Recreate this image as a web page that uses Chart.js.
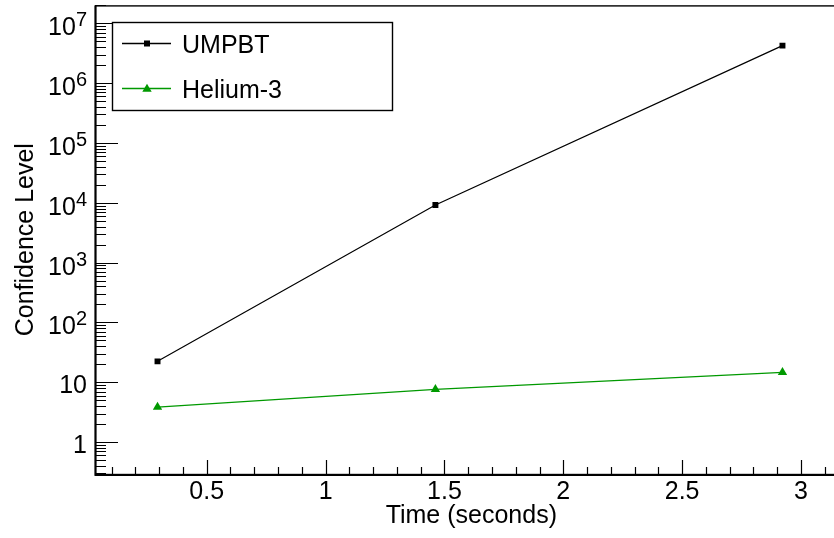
<!DOCTYPE html>
<html>
<head>
<meta charset="utf-8">
<script src="https://cdn.jsdelivr.net/npm/chart.js@4.4.1/dist/chart.umd.min.js"></script>
<style>
  html, body { margin: 0; padding: 0; overflow: hidden; background: #fff; }
  #myChart { display: block; }
</style>
</head>
<body>
<canvas id="myChart" width="853" height="538"></canvas>
<script>
const times = [0.293, 1.462, 2.922];
const umpbtValues = [22.4, 9200, 4.25e6];
const heliumValues = [3.85, 7.6, 14.7];
const seriesNames = ["UMPBT", "Helium-3"];
const seriesColors = ["#000000", "#009900"];
const xTickLabels = ["0.5", "1", "1.5", "2", "2.5", "3"];
const yTickExponents = [0, 1, 2, 3, 4, 5, 6, 7];

const FONT = "'Liberation Sans', Arial, Helvetica, sans-serif";

// ROOT style frame, inward ticks, y labels with exponents, legend box
const rootStyle = {
  id: "rootStyle",
  afterDraw(chart) {
    const ctx = chart.ctx;
    const a = chart.chartArea;
    const xs = chart.scales.x, ys = chart.scales.y;
    ctx.save();
    ctx.strokeStyle = "#000";

    // ticks
    ctx.lineWidth = 1.2;
    ctx.beginPath();
    xs.ticks.forEach(t => {
      const px = Math.round(xs.getPixelForValue(t.value)) + 0.5;
      const len = t.major ? 14 : 7;
      ctx.moveTo(px, a.bottom);
      ctx.lineTo(px, a.bottom - len);
    });
    ys.ticks.forEach(t => {
      const py = Math.round(ys.getPixelForValue(t.value)) + 0.5;
      const len = t.major ? 23 : 11;
      ctx.moveTo(a.left, py);
      ctx.lineTo(a.left + len, py);
    });
    ctx.stroke();

    // frame
    ctx.lineWidth = 1.4;
    ctx.strokeRect(a.left + 0.5, a.top + 0.5, a.right - a.left, a.bottom - a.top);
    ctx.lineWidth = 2;
    ctx.beginPath();
    ctx.moveTo(a.left + 0.5, a.top);
    ctx.lineTo(a.left + 0.5, a.bottom + 1);
    ctx.lineTo(a.right, a.bottom + 1);
    ctx.stroke();

    // y labels
    ctx.fillStyle = "#000";
    ctx.textBaseline = "alphabetic";
    yTickExponents.forEach(e => {
      const py = ys.getPixelForValue(Math.pow(10, e));
      const right = 87;
      if (e === 0 || e === 1) {
        ctx.font = "25px " + FONT;
        ctx.textAlign = "right";
        ctx.fillText(e === 0 ? "1" : "10", right, py + 11);
      } else {
        ctx.font = "20px " + FONT;
        const sup = String(e);
        const w = ctx.measureText(sup).width;
        ctx.textAlign = "left";
        ctx.fillText(sup, right - w, py + 3);
        ctx.font = "25px " + FONT;
        ctx.textAlign = "right";
        ctx.fillText("10", right - w, py + 12);
      }
    });

    // legend
    const box = { left: 112, top: 22, right: 392, bottom: 110 };
    ctx.fillStyle = "#fff";
    ctx.fillRect(box.left, box.top, box.right - box.left, box.bottom - box.top);
    ctx.lineWidth = 1.4;
    ctx.strokeStyle = "#000";
    ctx.strokeRect(box.left + 0.5, box.top + 0.5, box.right - box.left, box.bottom - box.top);
    const rows = [43.5, 88.5];
    chart.data.datasets.forEach((ds, i) => {
      const y = rows[i];
      ctx.strokeStyle = ds.borderColor;
      ctx.lineWidth = 1.3;
      ctx.beginPath();
      ctx.moveTo(122, y);
      ctx.lineTo(171, y);
      ctx.stroke();
      ctx.fillStyle = ds.borderColor;
      if (ds.pointStyle === "rect") {
        ctx.fillRect(147 - 3, y - 3, 6, 6);
      } else {
        const r = 5.4;
        ctx.beginPath();
        ctx.moveTo(147, y - r * 0.9);
        ctx.lineTo(147 + r * 0.87, y + r * 0.6);
        ctx.lineTo(147 - r * 0.87, y + r * 0.6);
        ctx.closePath();
        ctx.fill();
      }
      ctx.fillStyle = "#000";
      ctx.font = "25px " + FONT;
      ctx.textAlign = "left";
      ctx.textBaseline = "alphabetic";
      ctx.fillText(ds.label, 182, y + 9);
    });
    ctx.restore();
  }
};

new Chart("myChart", {
  type: "line",
  data: {
    datasets: [
      {
        label: seriesNames[0],
        data: times.map((t, i) => ({ x: t, y: umpbtValues[i] })),
        borderColor: seriesColors[0],
        backgroundColor: seriesColors[0],
        borderWidth: 1.2,
        pointStyle: "rect",
        pointRadius: 4.2,
        pointBorderWidth: 0,
        tension: 0
      },
      {
        label: seriesNames[1],
        data: times.map((t, i) => ({ x: t, y: heliumValues[i] })),
        borderColor: seriesColors[1],
        backgroundColor: seriesColors[1],
        borderWidth: 1.2,
        pointStyle: "triangle",
        pointRadius: 5.4,
        pointBorderWidth: 0,
        tension: 0
      }
    ]
  },
  options: {
    responsive: false,
    animation: false,
    layout: { padding: { top: 4, right: 0, left: 0, bottom: 0 } },
    plugins: { legend: { display: false }, tooltip: { enabled: false } },
    scales: {
      x: {
        type: "linear",
        min: 0.03,
        max: 3.196,
        grid: { display: false, drawTicks: false },
        border: { display: false },
        afterBuildTicks(scale) {
          const ticks = [];
          for (let i = 1; i <= 31; i++) {
            ticks.push({ value: i / 10, major: i % 5 === 0 });
          }
          scale.ticks = ticks;
        },
        ticks: {
          autoSkip: false,
          maxRotation: 0,
          padding: 3,
          color: "#000",
          font: { family: FONT, size: 25 },
          callback: (v) => {
            const i = Math.round(v * 10);
            return i % 5 === 0 ? xTickLabels[i / 5 - 1] : "";
          }
        },
        title: {
          display: true,
          text: "Time (seconds)",
          color: "#000",
          font: { family: FONT, size: 25 },
          padding: { top: 0, bottom: 7 }
        },
        afterFit(scale) { scale.height = 64; }
      },
      y: {
        type: "logarithmic",
        min: 0.293,
        max: 2e7,
        grid: { display: false, drawTicks: false },
        border: { display: false },
        afterBuildTicks(scale) {
          const ticks = [];
          for (let d = -1; d <= 7; d++) {
            for (let m = 1; m <= 9; m++) {
              const v = m * Math.pow(10, d);
              if (v >= scale.min && v <= scale.max) ticks.push({ value: v, major: m === 1 });
            }
          }
          scale.ticks = ticks;
        },
        ticks: { display: false },
        title: {
          display: true,
          text: "Confidence Level",
          color: "#000",
          font: { family: FONT, size: 25 },
          padding: { top: 11, bottom: 0 }
        },
        afterFit(scale) { scale.width = 95; }
      }
    }
  },
  plugins: [rootStyle]
});
</script>
</body>
</html>
